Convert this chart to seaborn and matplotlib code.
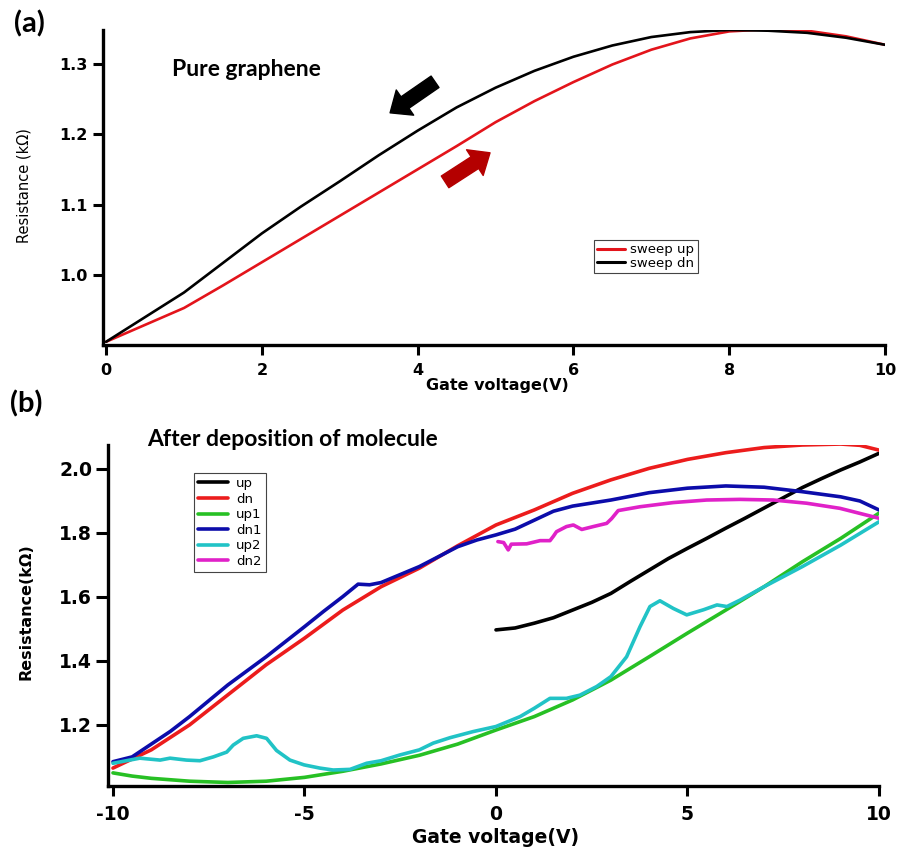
import matplotlib
matplotlib.use("Agg")
import matplotlib.pyplot as plt
import pandas as pd
import seaborn as sns
from matplotlib.lines import Line2D

# ---------------- panel (a) data ----------------
gate_a = [0, 0.5, 1, 1.5, 2, 2.5, 3, 3.5, 4, 4.5, 5, 5.5, 6, 6.5, 7, 7.5, 8, 8.5, 9, 9.5, 10]
sweep_up = [0.905, 0.929, 0.953, 0.985, 1.018, 1.051, 1.084, 1.117, 1.150, 1.183, 1.217,
            1.247, 1.274, 1.299, 1.320, 1.336, 1.346, 1.349, 1.347, 1.339, 1.327]
sweep_dn = [0.905, 0.940, 0.975, 1.017, 1.059, 1.097, 1.133, 1.170, 1.205, 1.238, 1.266,
            1.290, 1.310, 1.326, 1.338, 1.345, 1.348, 1.347, 1.344, 1.337, 1.327]
labels_a = ["sweep up", "sweep dn"]
xticks_a = [0, 2, 4, 6, 8, 10]
yticks_a = [1.0, 1.1, 1.2, 1.3]
yticklabels_a = ["1.0", "1.1", "1.2", "1.3"]

# ---------------- panel (b) data ----------------
up_x = [0, 0.5, 1, 1.5, 2, 2.5, 3, 3.5, 4, 4.5, 5, 5.5, 6, 6.5, 7, 7.5, 8, 8.5, 9, 9.5, 10]
up_y = [1.497, 1.503, 1.518, 1.535, 1.559, 1.583, 1.611, 1.648, 1.684, 1.720, 1.752,
        1.783, 1.815, 1.846, 1.878, 1.910, 1.942, 1.970, 1.997, 2.022, 2.049]

dn_x = [-10, -9, -8, -7, -6, -5, -4, -3, -2, -1, 0, 1, 2, 3, 4, 5, 6, 7, 8, 9, 9.5, 10]
dn_y = [1.065, 1.122, 1.200, 1.294, 1.388, 1.471, 1.559, 1.632, 1.690, 1.760, 1.825, 1.872,
        1.924, 1.966, 2.002, 2.030, 2.051, 2.067, 2.075, 2.078, 2.074, 2.059]

up1_x = [-10, -9.5, -9, -8, -7, -6, -5, -4, -3, -2, -1, 0, 1, 2, 3, 4, 5, 6, 7, 8, 9, 10]
up1_y = [1.050, 1.040, 1.033, 1.024, 1.020, 1.024, 1.036, 1.055, 1.078, 1.105, 1.140, 1.184,
         1.226, 1.278, 1.340, 1.413, 1.487, 1.559, 1.632, 1.710, 1.783, 1.862]

dn1_x = [-10, -9.5, -9, -8.5, -8, -7, -6, -5, -4.5, -4, -3.6, -3.3, -3, -2, -1, -0.5, 0, 0.5,
         1, 1.5, 2, 3, 4, 5, 6, 7, 8, 9, 9.5, 10]
dn1_y = [1.085, 1.100, 1.140, 1.180, 1.226, 1.325, 1.413, 1.507, 1.555, 1.601, 1.640, 1.638,
         1.645, 1.695, 1.757, 1.778, 1.794, 1.812, 1.840, 1.868, 1.884, 1.903, 1.926, 1.940,
         1.947, 1.943, 1.929, 1.913, 1.900, 1.872]

up2_x = [-10, -9.3, -8.77, -8.51, -8.08, -7.73, -7.38, -7.03, -6.86, -6.6, -6.25, -5.99, -5.73,
         -5.38, -5.01, -4.6, -4.25, -3.81, -3.38, -3.0, -2.51, -2.0, -1.64, -1.2, -0.6, 0,
         0.63, 1.0, 1.41, 1.84, 2.19, 2.63, 3.0, 3.41, 3.76, 4.02, 4.28, 4.63, 4.98, 5.42,
         5.77, 6.03, 6.37, 7, 8, 9, 10]
up2_y = [1.080, 1.096, 1.090, 1.096, 1.090, 1.088, 1.100, 1.115, 1.137, 1.158, 1.166, 1.158,
         1.120, 1.090, 1.075, 1.065, 1.059, 1.061, 1.080, 1.088, 1.106, 1.122, 1.143, 1.160,
         1.179, 1.195, 1.226, 1.252, 1.283, 1.283, 1.293, 1.320, 1.351, 1.413, 1.507, 1.570,
         1.588, 1.564, 1.544, 1.560, 1.575, 1.570, 1.590, 1.632, 1.695, 1.762, 1.835]

dn2_x = [0.05, 0.2, 0.32, 0.4, 0.8, 1.15, 1.41, 1.5, 1.58, 1.84, 2.02, 2.24, 2.54, 2.89, 3.02,
         3.19, 3.76, 4.63, 5.5, 6.37, 7.24, 8.11, 8.98, 10]
dn2_y = [1.773, 1.770, 1.747, 1.765, 1.766, 1.776, 1.776, 1.790, 1.804, 1.820, 1.825, 1.811,
         1.820, 1.830, 1.845, 1.870, 1.882, 1.895, 1.903, 1.905, 1.903, 1.893, 1.877, 1.846]

labels_b = ["up", "dn", "up1", "dn1", "up2", "dn2"]
xticks_b = [-10, -5, 0, 5, 10]
yticks_b = [1.2, 1.4, 1.6, 1.8, 2.0]
yticklabels_b = ["1.2", "1.4", "1.6", "1.8", "2.0"]

# ---------------- styling ----------------
colors_a = {"sweep up": "#e3141b", "sweep dn": "#000000"}
colors_b = {"up": "#000000", "dn": "#ec1c1c", "up1": "#27c024", "dn1": "#0c0caa",
            "up2": "#21c3c6", "dn2": "#e021c8"}

sns.set_style("ticks")
plt.rcParams["font.family"] = ["DejaVu Sans"]
plt.rcParams["text.color"] = "black"
plt.rcParams["axes.labelcolor"] = "black"
plt.rcParams["xtick.color"] = "black"
plt.rcParams["ytick.color"] = "black"

W, H = 898, 849
fig = plt.figure(figsize=(W / 100, H / 100), dpi=100)


def px_axes(l, t, r, b):
    return fig.add_axes([l / W, 1 - b / H, (r - l) / W, (b - t) / H])


def fig_xy(x, y):
    return x / W, 1 - y / H


ax_a = px_axes(103, 30, 885, 345)
ax_b = px_axes(108, 445, 879, 786)

# ---- panel (a)
df_a = pd.DataFrame({
    "gate": gate_a + gate_a,
    "res": sweep_up + sweep_dn,
    "trace": [labels_a[0]] * len(gate_a) + [labels_a[1]] * len(gate_a),
})
sns.lineplot(data=df_a, x="gate", y="res", hue="trace", hue_order=labels_a,
             palette=colors_a, sort=False, estimator=None, linewidth=1.9,
             legend=False, ax=ax_a)
ax_a.set_xlim(-0.04, 10.0)
ax_a.set_ylim(0.9004, 1.348)
ax_a.set_xticks(xticks_a)
ax_a.set_xticklabels([str(t) for t in xticks_a])
ax_a.set_yticks(yticks_a)
ax_a.set_yticklabels(yticklabels_a)

# arrows
ax_a.annotate("", xy=(3.646, 1.2303), xytext=(4.223, 1.2744),
              arrowprops=dict(arrowstyle="simple,head_length=1.3,head_width=2.2,tail_width=1.0",
                              mutation_scale=10, color="black", shrinkA=0, shrinkB=0))
ax_a.annotate("", xy=(4.929, 1.1735), xytext=(4.352, 1.1322),
              arrowprops=dict(arrowstyle="simple,head_length=1.3,head_width=2.2,tail_width=1.0",
                              mutation_scale=10, color="#b40000", shrinkA=0, shrinkB=0))

handles_a = [Line2D([], [], color=colors_a[k], lw=2.2) for k in labels_a]
leg_a = ax_a.legend(handles_a, labels_a, loc="upper left", bbox_to_anchor=(0.628, 0.333),
                    fontsize=9.5, frameon=True, fancybox=False, framealpha=1,
                    edgecolor="#444444", borderpad=0.25, handlelength=2.1,
                    handletextpad=0.4, labelspacing=0.05, borderaxespad=0)
leg_a.get_frame().set_linewidth(0.8)

ax_a.set_xlabel("Gate voltage(V)", fontsize=11.5, fontweight="bold", color="black")
ax_a.set_ylabel("Resistance (k\u03a9)", fontsize=10.5, color="black")
ax_a.xaxis.set_label_coords(0.504, -0.105)
ax_a.yaxis.set_label_coords(-0.091, 0.506)

# ---- panel (b)
series_b = [(up_x, up_y), (dn_x, dn_y), (up1_x, up1_y), (dn1_x, dn1_y), (up2_x, up2_y), (dn2_x, dn2_y)]
rows = []
for name, (xs, ys) in zip(labels_b, series_b):
    for xv, yv in zip(xs, ys):
        rows.append((xv, yv, name))
df_b = pd.DataFrame(rows, columns=["gate", "res", "trace"])
sns.lineplot(data=df_b, x="gate", y="res", hue="trace", hue_order=labels_b,
             palette=colors_b, sort=False, estimator=None, linewidth=2.6,
             legend=False, ax=ax_b)
ax_b.set_xlim(-10.13, 10.0)
ax_b.set_ylim(1.009, 2.075)
ax_b.set_xticks(xticks_b)
ax_b.set_xticklabels([str(t) for t in xticks_b])
ax_b.set_yticks(yticks_b)
ax_b.set_yticklabels(yticklabels_b)

handles_b = [Line2D([], [], color=colors_b[k], lw=2.6) for k in labels_b]
leg_b = ax_b.legend(handles_b, labels_b, loc="upper left", bbox_to_anchor=(0.1115, 0.918),
                    fontsize=9.5, frameon=True, fancybox=False, framealpha=1,
                    edgecolor="#444444", borderpad=0.3, handlelength=2.3,
                    handletextpad=0.6, labelspacing=0.2, borderaxespad=0)
leg_b.get_frame().set_linewidth(0.8)

ax_b.set_xlabel("Gate voltage(V)", fontsize=13.5, fontweight="bold", color="black")
ax_b.set_ylabel("Resistance(k\u03a9)", fontsize=11.5, fontweight="bold", color="black")
ax_b.xaxis.set_label_coords(0.503, -0.124)
ax_b.yaxis.set_label_coords(-0.097, 0.51)

# ---- common axis styling
for ax, tsize, ylen, ypad, xpad in [(ax_a, 11.5, 7, 4, 6), (ax_b, 13.5, 8.5, 3, 7)]:
    for s in ["top", "right"]:
        ax.spines[s].set_visible(False)
    for s in ["left", "bottom"]:
        ax.spines[s].set_linewidth(2.4)
        ax.spines[s].set_color("black")
    ax.tick_params(axis="both", direction="out", width=2.2, color="black",
                   labelsize=tsize, labelcolor="black")
    ax.tick_params(axis="y", length=ylen, pad=ypad)
    ax.tick_params(axis="x", length=7, pad=xpad)
    for lab in ax.get_xticklabels() + ax.get_yticklabels():
        lab.set_fontweight("bold")
    ax.set_facecolor("white")

# ---- panel texts
fig.text(*fig_xy(14, 10), "(a)", fontsize=21, fontweight="bold", family=["Lato", "DejaVu Sans"],
         ha="left", va="top", color="black")
fig.text(*fig_xy(10, 390), "(b)", fontsize=21, fontweight="bold", family=["Lato", "DejaVu Sans"],
         ha="left", va="top", color="black")
ax_a.text(*fig_xy(172, 70), "Pure graphene", transform=fig.transFigure, fontsize=16.5,
          fontweight="bold", family=["Lato", "DejaVu Sans"], ha="left", va="center", color="black")
ax_b.text(*fig_xy(147, 440), "After deposition of molecule", transform=fig.transFigure,
          fontsize=16.5, fontweight="bold", family=["Lato", "DejaVu Sans"], ha="left", va="center",
          color="black")

fig.savefig("out.png", dpi=100, facecolor="white")
